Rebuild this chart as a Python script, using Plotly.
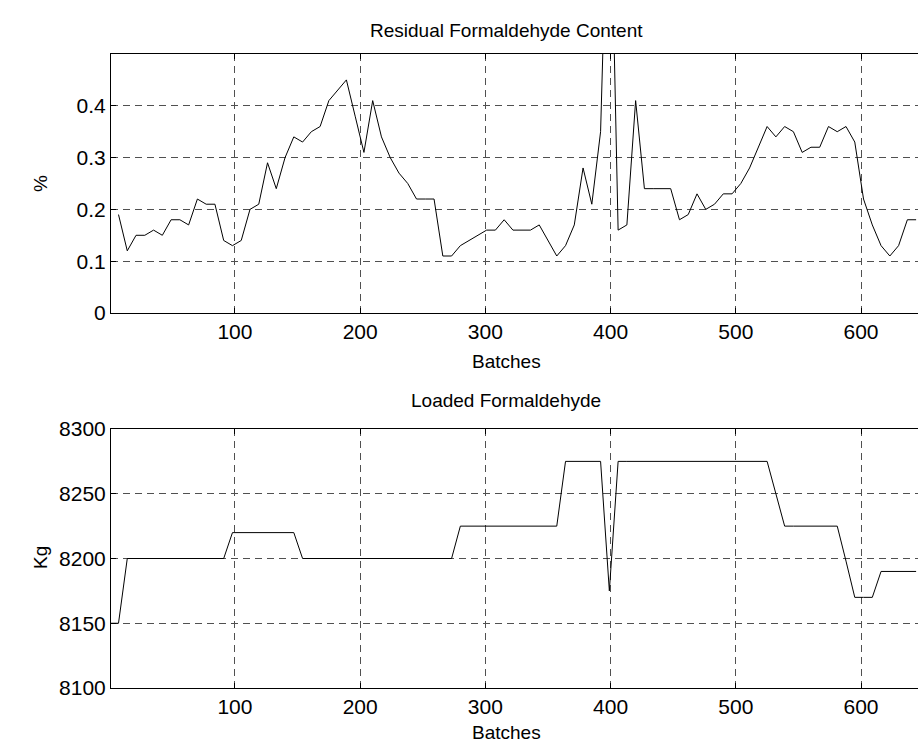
import plotly.graph_objects as go
from plotly.subplots import make_subplots

# Batch numbers where samples were taken
batches = [7, 14, 21, 28, 35, 42, 49, 56, 63, 70, 77, 84, 91, 98, 105, 112,
           119, 126, 133, 140, 147, 154, 161, 168, 175, 182, 189, 196, 203,
           210, 217, 224, 231, 238, 245, 252, 259, 266, 273, 280, 287, 294,
           301, 308, 315, 322, 329, 336, 343, 350, 357, 364, 371, 378, 385,
           392, 399, 406, 413, 420, 427, 434, 441, 448, 455, 462, 469, 476,
           483, 490, 497, 504, 511, 518, 525, 532, 539, 546, 553, 560, 567,
           574, 581, 588, 595, 602, 609, 616, 623, 630, 637, 644]

# Residual formaldehyde content (%)
residual_pct = [0.19, 0.12, 0.15, 0.15, 0.16, 0.15, 0.18, 0.18, 0.17, 0.22,
                0.21, 0.21, 0.14, 0.13, 0.14, 0.20, 0.21, 0.29, 0.24, 0.30,
                0.34, 0.33, 0.35, 0.36, 0.41, 0.43, 0.45, 0.38, 0.31, 0.41,
                0.34, 0.30, 0.27, 0.25, 0.22, 0.22, 0.22, 0.11, 0.11, 0.13,
                0.14, 0.15, 0.16, 0.16, 0.18, 0.16, 0.16, 0.16, 0.17, 0.14,
                0.11, 0.13, 0.17, 0.28, 0.21, 0.35, 0.95, 0.16, 0.17, 0.41,
                0.24, 0.24, 0.24, 0.24, 0.18, 0.19, 0.23, 0.20, 0.21, 0.23,
                0.23, 0.25, 0.28, 0.32, 0.36, 0.34, 0.36, 0.35, 0.31, 0.32,
                0.32, 0.36, 0.35, 0.36, 0.33, 0.22, 0.17, 0.13, 0.11, 0.13,
                0.18, 0.18]

# Loaded formaldehyde (Kg); the first reading is at batch 1
loaded_batches = [1] + batches
loaded_kg = [8150, 8150,
             8200, 8200, 8200, 8200, 8200, 8200, 8200, 8200, 8200, 8200,
             8200, 8200,
             8220, 8220, 8220, 8220, 8220, 8220, 8220, 8220,
             8200, 8200, 8200, 8200, 8200, 8200, 8200, 8200, 8200, 8200,
             8200, 8200, 8200, 8200, 8200, 8200, 8200, 8200,
             8225, 8225, 8225, 8225, 8225, 8225, 8225, 8225, 8225, 8225,
             8225, 8225,
             8275, 8275, 8275, 8275, 8275,
             8175,
             8275, 8275, 8275, 8275, 8275, 8275, 8275, 8275, 8275, 8275,
             8275, 8275, 8275, 8275, 8275, 8275, 8275, 8275,
             8250,
             8225, 8225, 8225, 8225, 8225, 8225, 8225,
             8198,
             8170, 8170, 8170,
             8190, 8190, 8190, 8190, 8190]

x_ticks = [100, 200, 300, 400, 500, 600]
top_y_ticks = [0, 0.1, 0.2, 0.3, 0.4]
top_y_labels = ["0", "0.1", "0.2", "0.3", "0.4"]
bot_y_ticks = [8100, 8150, 8200, 8250, 8300]

FONT = "Liberation Sans, Arial, Helvetica, sans-serif"
GRID = "#505050"

fig = make_subplots(rows=2, cols=1, vertical_spacing=0.183)

fig.add_trace(go.Scatter(x=batches, y=residual_pct, mode="lines",
                         line=dict(color="black", width=1),
                         showlegend=False), row=1, col=1)
fig.add_trace(go.Scatter(x=loaded_batches, y=loaded_kg, mode="lines",
                         line=dict(color="black", width=1),
                         showlegend=False), row=2, col=1)

axis_common = dict(showline=True, linecolor="black", linewidth=1,
                   showgrid=True, gridcolor=GRID, gridwidth=1,
                   griddash="7px,5px", zeroline=False,
                   ticks="inside", ticklen=5, tickcolor="black",
                   tickfont=dict(family=FONT, size=21, color="black"))

fig.update_xaxes(**axis_common, range=[1, 645.5], tickvals=x_ticks,
                 mirror="ticks")
fig.update_yaxes(**axis_common, mirror=False)
fig.update_yaxes(range=[0, 0.5], tickvals=top_y_ticks,
                 ticktext=top_y_labels, row=1, col=1)
fig.update_yaxes(range=[8100, 8300], tickvals=bot_y_ticks, row=2, col=1)

fig.update_layout(
    xaxis=dict(domain=[0, 1]),
    yaxis=dict(domain=[0.5915, 1.0]),
    yaxis2=dict(domain=[0.0, 0.4085]),
)

TEXT = dict(family=FONT, size=19, color="black")
labels = [
    ("Residual Formaldehyde Content", 0.49, 1.0, 11, "bottom"),
    ("Batches", 0.49, 0.5915, -36, "top"),
    ("Loaded Formaldehyde", 0.49, 0.4085, 16, "bottom"),
    ("Batches", 0.49, 0.0, -32, "top"),
]
for text, x, y, yshift, anchor in labels:
    fig.add_annotation(text=text, x=x, y=y, xref="paper", yref="paper",
                       showarrow=False, yanchor=anchor, xanchor="center",
                       yshift=yshift, font=TEXT)
fig.add_annotation(text="%", x=-0.088, y=0.7965, xref="paper", yref="paper",
                   showarrow=False, textangle=-90, xanchor="center",
                   yanchor="middle", font=TEXT)
fig.add_annotation(text="Kg", x=-0.088, y=0.2066, xref="paper", yref="paper",
                   showarrow=False, textangle=-90, xanchor="center",
                   yanchor="middle", font=TEXT)

fig.update_layout(width=918, height=750,
                  margin=dict(l=111, r=0, t=54, b=62),
                  paper_bgcolor="white", plot_bgcolor="white")

fig.write_html("out.html")
